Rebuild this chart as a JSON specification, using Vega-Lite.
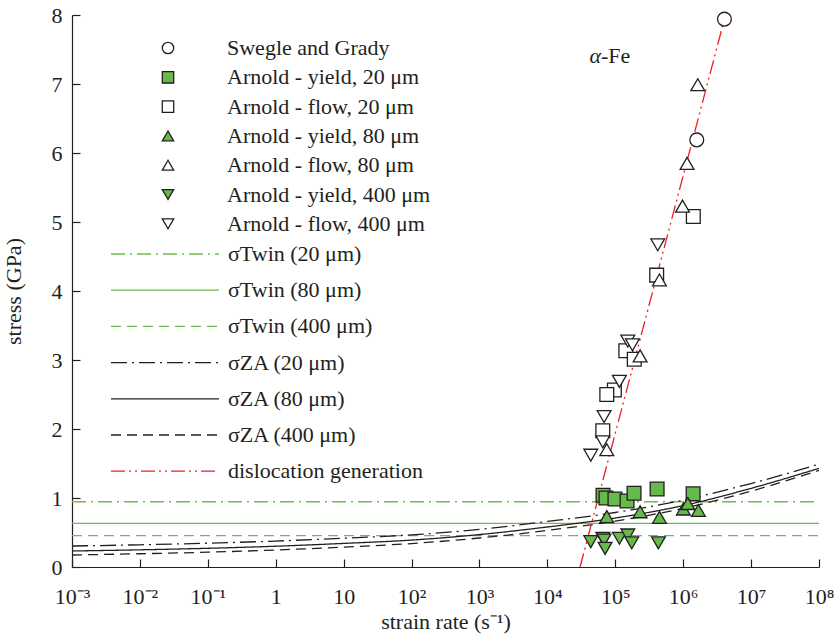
{
"$schema": "https://vega.github.io/schema/vega-lite/v6.json",
"width": 747, "height": 552,
"autosize": {"type": "none"},
"padding": {"left": 72, "top": 15, "right": 17, "bottom": 69},
"background": "white",
"config": {
  "font": "Liberation Serif",
  "view": {"stroke": null},
  "axis": {"grid": false, "domainColor": "#231f20", "tickColor": "#231f20", "labelColor": "#231f20", "titleColor": "#231f20", "labelFont": "Liberation Serif", "titleFont": "Liberation Serif", "labelFontSize": 22, "titleFontSize": 22, "titleFontWeight": "normal", "tickSize": -8, "domainWidth": 1.2, "tickWidth": 1.2},
  "legend": {"labelFont": "Liberation Serif", "labelFontSize": 22, "labelColor": "#231f20", "labelLimit": 500, "padding": 0, "title": null}
},
"datasets": {
  "curves": [
    {"curve": "σTwin (20 μm)", "rate": 0.001, "stress": 0.946},
    {"curve": "σTwin (20 μm)", "rate": 1e8, "stress": 0.946},
    {"curve": "σTwin (80 μm)", "rate": 0.001, "stress": 0.633},
    {"curve": "σTwin (80 μm)", "rate": 1e8, "stress": 0.633},
    {"curve": "σTwin (400 μm)", "rate": 0.001, "stress": 0.454},
    {"curve": "σTwin (400 μm)", "rate": 1e8, "stress": 0.454},
    {"curve": "σZA (20 μm)", "rate": 0.001, "stress": 0.304},
    {"curve": "σZA (20 μm)", "rate": 0.01, "stress": 0.322},
    {"curve": "σZA (20 μm)", "rate": 0.1, "stress": 0.345},
    {"curve": "σZA (20 μm)", "rate": 1, "stress": 0.376},
    {"curve": "σZA (20 μm)", "rate": 10, "stress": 0.418},
    {"curve": "σZA (20 μm)", "rate": 100, "stress": 0.466},
    {"curve": "σZA (20 μm)", "rate": 1000, "stress": 0.545},
    {"curve": "σZA (20 μm)", "rate": 10000, "stress": 0.66},
    {"curve": "σZA (20 μm)", "rate": 100000, "stress": 0.79},
    {"curve": "σZA (20 μm)", "rate": 1000000, "stress": 0.97},
    {"curve": "σZA (20 μm)", "rate": 10000000, "stress": 1.21},
    {"curve": "σZA (20 μm)", "rate": 100000000, "stress": 1.49},
    {"curve": "σZA (80 μm)", "rate": 0.001, "stress": 0.232},
    {"curve": "σZA (80 μm)", "rate": 0.01, "stress": 0.249},
    {"curve": "σZA (80 μm)", "rate": 0.1, "stress": 0.271},
    {"curve": "σZA (80 μm)", "rate": 1, "stress": 0.301},
    {"curve": "σZA (80 μm)", "rate": 10, "stress": 0.342},
    {"curve": "σZA (80 μm)", "rate": 100, "stress": 0.39},
    {"curve": "σZA (80 μm)", "rate": 1000, "stress": 0.47},
    {"curve": "σZA (80 μm)", "rate": 10000, "stress": 0.58},
    {"curve": "σZA (80 μm)", "rate": 100000, "stress": 0.71},
    {"curve": "σZA (80 μm)", "rate": 1000000, "stress": 0.89},
    {"curve": "σZA (80 μm)", "rate": 10000000, "stress": 1.14},
    {"curve": "σZA (80 μm)", "rate": 100000000, "stress": 1.43},
    {"curve": "σZA (400 μm)", "rate": 0.001, "stress": 0.174},
    {"curve": "σZA (400 μm)", "rate": 0.01, "stress": 0.192},
    {"curve": "σZA (400 μm)", "rate": 0.1, "stress": 0.215},
    {"curve": "σZA (400 μm)", "rate": 1, "stress": 0.246},
    {"curve": "σZA (400 μm)", "rate": 10, "stress": 0.289},
    {"curve": "σZA (400 μm)", "rate": 100, "stress": 0.34},
    {"curve": "σZA (400 μm)", "rate": 1000, "stress": 0.42},
    {"curve": "σZA (400 μm)", "rate": 10000, "stress": 0.53},
    {"curve": "σZA (400 μm)", "rate": 100000, "stress": 0.665},
    {"curve": "σZA (400 μm)", "rate": 1000000, "stress": 0.85},
    {"curve": "σZA (400 μm)", "rate": 10000000, "stress": 1.1},
    {"curve": "σZA (400 μm)", "rate": 100000000, "stress": 1.4},
    {"curve": "dislocation generation", "rate": 30300, "stress": 0},
    {"curve": "dislocation generation", "rate": 4200000, "stress": 8}
  ],
  "points": [
    {"series": "Swegle and Grady", "rate": 4050000, "stress": 7.94},
    {"series": "Swegle and Grady", "rate": 1585000, "stress": 6.19},
    {"series": "Arnold - yield, 20 μm", "rate": 66000, "stress": 1.04},
    {"series": "Arnold - yield, 20 μm", "rate": 73000, "stress": 1.0},
    {"series": "Arnold - yield, 20 μm", "rate": 99000, "stress": 0.986},
    {"series": "Arnold - yield, 20 μm", "rate": 149000, "stress": 0.957},
    {"series": "Arnold - yield, 20 μm", "rate": 189000, "stress": 1.07},
    {"series": "Arnold - yield, 20 μm", "rate": 413000, "stress": 1.13},
    {"series": "Arnold - yield, 20 μm", "rate": 1400000, "stress": 1.06},
    {"series": "Arnold - flow, 20 μm", "rate": 1410000, "stress": 5.08},
    {"series": "Arnold - flow, 20 μm", "rate": 407000, "stress": 4.23},
    {"series": "Arnold - flow, 20 μm", "rate": 143000, "stress": 3.135},
    {"series": "Arnold - flow, 20 μm", "rate": 190500, "stress": 3.01},
    {"series": "Arnold - flow, 20 μm", "rate": 97000, "stress": 2.565},
    {"series": "Arnold - flow, 20 μm", "rate": 75000, "stress": 2.5},
    {"series": "Arnold - flow, 20 μm", "rate": 65500, "stress": 1.975},
    {"series": "Arnold - yield, 80 μm", "rate": 75000, "stress": 0.73},
    {"series": "Arnold - yield, 80 μm", "rate": 232000, "stress": 0.8},
    {"series": "Arnold - yield, 80 μm", "rate": 447000, "stress": 0.72},
    {"series": "Arnold - yield, 80 μm", "rate": 1007000, "stress": 0.84},
    {"series": "Arnold - yield, 80 μm", "rate": 1170000, "stress": 0.92},
    {"series": "Arnold - yield, 80 μm", "rate": 1675000, "stress": 0.82},
    {"series": "Arnold - flow, 80 μm", "rate": 1640000, "stress": 6.99},
    {"series": "Arnold - flow, 80 μm", "rate": 1140000, "stress": 5.85},
    {"series": "Arnold - flow, 80 μm", "rate": 977000, "stress": 5.23},
    {"series": "Arnold - flow, 80 μm", "rate": 447000, "stress": 4.16},
    {"series": "Arnold - flow, 80 μm", "rate": 232000, "stress": 3.06},
    {"series": "Arnold - flow, 80 μm", "rate": 75000, "stress": 1.7},
    {"series": "Arnold - yield, 400 μm", "rate": 43600, "stress": 0.367},
    {"series": "Arnold - yield, 400 μm", "rate": 65500, "stress": 0.416},
    {"series": "Arnold - yield, 400 μm", "rate": 68400, "stress": 0.39},
    {"series": "Arnold - yield, 400 μm", "rate": 70800, "stress": 0.27},
    {"series": "Arnold - yield, 400 μm", "rate": 115000, "stress": 0.416},
    {"series": "Arnold - yield, 400 μm", "rate": 153000, "stress": 0.464},
    {"series": "Arnold - yield, 400 μm", "rate": 175000, "stress": 0.35},
    {"series": "Arnold - yield, 400 μm", "rate": 432000, "stress": 0.35},
    {"series": "Arnold - flow, 400 μm", "rate": 422000, "stress": 4.67},
    {"series": "Arnold - flow, 400 μm", "rate": 153000, "stress": 3.275},
    {"series": "Arnold - flow, 400 μm", "rate": 179000, "stress": 3.22},
    {"series": "Arnold - flow, 400 μm", "rate": 115000, "stress": 2.69},
    {"series": "Arnold - flow, 400 μm", "rate": 68400, "stress": 2.18},
    {"series": "Arnold - flow, 400 μm", "rate": 65500, "stress": 1.815},
    {"series": "Arnold - flow, 400 μm", "rate": 43600, "stress": 1.62}
  ],
  "notes": [
    {"rate": 61700, "stress": 7.41}
  ]
},
"layer": [
  {
    "data": {"name": "curves"},
    "mark": {"type": "line", "strokeWidth": 1.3, "clip": true, "interpolate": "monotone"},
    "encoding": {
      "x": {"field": "rate", "type": "quantitative",
        "scale": {"type": "log", "domain": [0.001, 100000000]},
        "axis": {"values": [0.001, 0.01, 0.1, 1, 10, 100, 1000, 10000, 100000, 1000000, 10000000, 100000000],
          "labelExpr": "datum.value < 0.0015 ? '10⁻³' : datum.value < 0.015 ? '10⁻²' : datum.value < 0.15 ? '10⁻¹' : datum.value < 1.5 ? '1' : datum.value < 15 ? '10' : datum.value < 150 ? '10²' : datum.value < 1500 ? '10³' : datum.value < 15000 ? '10⁴' : datum.value < 150000 ? '10⁵' : datum.value < 1500000 ? '10⁶' : datum.value < 15000000 ? '10⁷' : '10⁸'",
          "title": "strain rate (s⁻¹)", "labelPadding": 27, "titlePadding": 4, "labelFlush": false, "labelOverlap": false}},
      "y": {"field": "stress", "type": "quantitative",
        "scale": {"domain": [0, 8], "nice": false},
        "axis": {"values": [0, 1, 2, 3, 4, 5, 6, 7, 8], "format": "d", "title": "stress (GPa)", "labelPadding": 18, "titlePadding": 26}},
      "color": {"field": "curve", "type": "nominal",
        "scale": {"domain": ["σTwin (20 μm)", "σTwin (80 μm)", "σTwin (400 μm)", "σZA (20 μm)", "σZA (80 μm)", "σZA (400 μm)", "dislocation generation"],
          "range": ["#6abf4b", "#6abf4b", "#6abf4b", "#231f20", "#231f20", "#231f20", "#ed1c24"]},
        "legend": {"orient": "none", "legendX": 38, "legendY": 229, "symbolType": "stroke", "symbolSize": 11664, "symbolStrokeWidth": 1.3, "labelOffset": 8, "rowPadding": 14.2, "clipHeight": 20}},
      "strokeDash": {"field": "curve", "type": "nominal",
        "scale": {"domain": ["σTwin (20 μm)", "σTwin (80 μm)", "σTwin (400 μm)", "σZA (20 μm)", "σZA (80 μm)", "σZA (400 μm)", "dislocation generation"],
          "range": [[14, 5, 2, 5], [1, 0], [10, 6], [16, 5, 2, 5], [1, 0], [10, 6], [14, 4, 2, 4, 2, 4]]},
        "legend": {"orient": "none", "legendX": 38, "legendY": 229, "symbolType": "stroke", "symbolSize": 11664, "symbolStrokeWidth": 1.3, "labelOffset": 8, "rowPadding": 14.2, "clipHeight": 20}}
    }
  },
  {
    "data": {"name": "points"},
    "mark": {"type": "point", "strokeWidth": 1.3, "opacity": 1, "size": 190},
    "encoding": {
      "x": {"field": "rate", "type": "quantitative"},
      "y": {"field": "stress", "type": "quantitative"},
      "shape": {"field": "series", "type": "nominal",
        "scale": {"domain": ["Swegle and Grady", "Arnold - yield, 20 μm", "Arnold - flow, 20 μm", "Arnold - yield, 80 μm", "Arnold - flow, 80 μm", "Arnold - yield, 400 μm", "Arnold - flow, 400 μm"],
          "range": ["circle", "square", "square", "triangle-up", "triangle-up", "triangle-down", "triangle-down"]},
        "legend": {"orient": "none", "legendX": 85, "legendY": 23, "symbolSize": 130, "symbolStrokeWidth": 1.3, "labelOffset": 48, "rowPadding": 7.3, "clipHeight": 20}},
      "fill": {"field": "series", "type": "nominal",
        "scale": {"domain": ["Swegle and Grady", "Arnold - yield, 20 μm", "Arnold - flow, 20 μm", "Arnold - yield, 80 μm", "Arnold - flow, 80 μm", "Arnold - yield, 400 μm", "Arnold - flow, 400 μm"],
          "range": ["#ffffff", "#66b94a", "#ffffff", "#66b94a", "#ffffff", "#66b94a", "#ffffff"]},
        "legend": {"orient": "none", "legendX": 85, "legendY": 23, "symbolSize": 130, "symbolStrokeWidth": 1.3, "labelOffset": 48, "rowPadding": 7.3, "clipHeight": 20}},
      "stroke": {"field": "series", "type": "nominal",
        "scale": {"domain": ["Swegle and Grady", "Arnold - yield, 20 μm", "Arnold - flow, 20 μm", "Arnold - yield, 80 μm", "Arnold - flow, 80 μm", "Arnold - yield, 400 μm", "Arnold - flow, 400 μm"],
          "range": ["#231f20", "#231f20", "#231f20", "#231f20", "#231f20", "#231f20", "#231f20"]},
        "legend": {"orient": "none", "legendX": 85, "legendY": 23, "symbolSize": 130, "symbolStrokeWidth": 1.3, "labelOffset": 48, "rowPadding": 7.3, "clipHeight": 20}}
    }
  },
  {
    "data": {"name": "notes"},
    "mark": {"type": "text", "text": "α", "fontStyle": "italic", "fontSize": 22, "align": "right", "baseline": "middle", "color": "#231f20"},
    "encoding": {
      "x": {"field": "rate", "type": "quantitative"},
      "y": {"field": "stress", "type": "quantitative"}
    }
  },
  {
    "data": {"name": "notes"},
    "mark": {"type": "text", "text": "-Fe", "fontSize": 22, "align": "left", "baseline": "middle", "color": "#231f20"},
    "encoding": {
      "x": {"field": "rate", "type": "quantitative"},
      "y": {"field": "stress", "type": "quantitative"}
    }
  }
]
}
